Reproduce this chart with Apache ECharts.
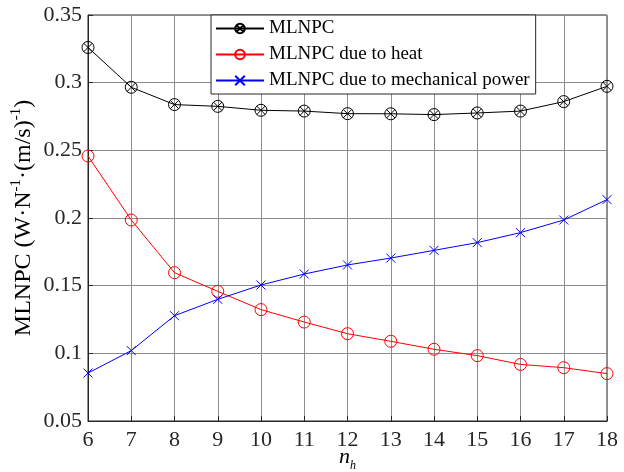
<!DOCTYPE html>
<html>
<head>
<meta charset="utf-8">
<script src="https://cdn.jsdelivr.net/npm/echarts@6/dist/echarts.min.js"></script>
<style>
html,body{margin:0;padding:0;background:#fff;}
#chart{width:624px;height:472px;}
</style>
</head>
<body>
<div id="chart"></div>
<script>
var nh = [6, 7, 8, 9, 10, 11, 12, 13, 14, 15, 16, 17, 18];
var mlnpc = [0.326, 0.2966, 0.2838, 0.2825, 0.2796, 0.279, 0.2771, 0.2770, 0.2764, 0.2776, 0.279, 0.286, 0.2973];
var mlnpcHeat = [0.2458, 0.1985, 0.1596, 0.1458, 0.1323, 0.1231, 0.1145, 0.1089, 0.1030, 0.0983, 0.0918, 0.0894, 0.0850];
var mlnpcMech = [0.0854, 0.1020, 0.1278, 0.1399, 0.1505, 0.1586, 0.1653, 0.1704, 0.1761, 0.1818, 0.1892, 0.1985, 0.2136];
var seriesNames = ['MLNPC', 'MLNPC due to heat', 'MLNPC due to mechanical power'];
var yTicks = [0.05, 0.1, 0.15, 0.2, 0.25, 0.3, 0.35];

function pairs(ys) { return nh.map(function (x, i) { return [x, ys[i]]; }); }

var FONT = 'Liberation Serif';
var AX = '#262626';
var circleX = 'path://M0,-10 A10,10 0 1,1 0,10 A10,10 0 1,1 0,-10 Z M-7.07,-7.07 L7.07,7.07 M-7.07,7.07 L7.07,-7.07';
var circleP = 'path://M0,-10 A10,10 0 1,1 0,10 A10,10 0 1,1 0,-10 Z';
var crossP = 'path://M-10,-10 L10,10 M-10,10 L10,-10';

var tickRich = {t: {fontFamily: FONT, fontSize: 22, color: AX}};

var chart = echarts.init(document.getElementById('chart'), null, {renderer: 'canvas'});
chart.setOption({
  animation: false,
  backgroundColor: '#fff',
  textStyle: {fontFamily: FONT},
  grid: {left: 88, right: 17, top: 15, bottom: 51, show: true, borderColor: AX, borderWidth: 1,
         backgroundColor: 'transparent', containLabel: false, outerBoundsMode: 'none'},
  legend: {
    orient: 'vertical', left: 211, top: 15,
    padding: [4, 6, 4, 4], itemGap: 7, itemWidth: 48, itemHeight: 12,
    itemTextGap: 5,
    borderColor: AX, borderWidth: 1, backgroundColor: '#fff',
    formatter: function (n) { return '{l|' + n + '}'; },
    textStyle: {fontFamily: FONT, fontSize: 19, color: '#000',
      rich: {l: {fontFamily: FONT, fontSize: 19, color: '#000'}}},
    data: seriesNames
  },
  xAxis: {
    type: 'value', min: 6, max: 18, interval: 1,
    name: '{i|n}{s|h}', nameLocation: 'middle', nameGap: 25, nameMoveOverlap: false,
    nameTextStyle: {fontFamily: FONT, rich: {
      i: {fontFamily: FONT, fontStyle: 'italic', fontSize: 22, color: '#000', verticalAlign: 'top', lineHeight: 26, padding: [0, 0, 4, 0]},
      s: {fontFamily: FONT, fontStyle: 'italic', fontSize: 12, color: '#000', verticalAlign: 'bottom', lineHeight: 12}
    }},
    axisLine: {show: true, lineStyle: {color: AX, width: 1}},
    axisTick: {show: true, inside: true, length: 5, lineStyle: {color: AX}},
    axisLabel: {fontFamily: FONT, fontSize: 22, color: AX, margin: 8, rich: tickRich,
      formatter: function (v) { return '{t|' + v + '}'; }},
    splitLine: {show: true, lineStyle: {color: '#8c8c8c', width: 1}}
  },
  yAxis: {
    type: 'value', min: 0.05, max: 0.35, interval: 0.05,
    name: 'MLNPC (W·N{sup|-1}·(m/s){sup|-1})', nameLocation: 'middle', nameGap: 49, nameRotate: 90, nameMoveOverlap: false,
    nameTextStyle: {fontFamily: FONT, fontSize: 24, color: '#000', lineHeight: 30, verticalAlign: 'bottom', rich: {
      sup: {fontFamily: FONT, fontSize: 15, color: '#000', verticalAlign: 'top', lineHeight: 14}
    }},
    axisLine: {show: true, lineStyle: {color: AX, width: 1}},
    axisTick: {show: true, inside: true, length: 5, lineStyle: {color: AX}},
    axisLabel: {fontFamily: FONT, fontSize: 22, color: AX, margin: 6, rich: tickRich,
      formatter: function (v) { return '{t|' + String(parseFloat(v.toFixed(2))) + '}'; }},
    splitLine: {show: true, lineStyle: {color: '#8c8c8c', width: 1}}
  },
  series: [
    {name: seriesNames[0], type: 'line', data: pairs(mlnpc),
     symbol: circleX, symbolSize: 12,
     lineStyle: {color: '#000', width: 1},
     itemStyle: {color: 'rgba(0,0,0,0)', borderColor: '#000', borderWidth: 1},
     z: 3},
    {name: seriesNames[1], type: 'line', data: pairs(mlnpcHeat),
     symbol: circleP, symbolSize: 12,
     lineStyle: {color: '#ff0000', width: 1},
     itemStyle: {color: 'rgba(0,0,0,0)', borderColor: '#ff0000', borderWidth: 1},
     z: 3},
    {name: seriesNames[2], type: 'line', data: pairs(mlnpcMech),
     symbol: crossP, symbolSize: 9,
     lineStyle: {color: '#0000ff', width: 1},
     itemStyle: {color: 'rgba(0,0,0,0)', borderColor: '#0000ff', borderWidth: 1},
     z: 3}
  ]
});
</script>
</body>
</html>
